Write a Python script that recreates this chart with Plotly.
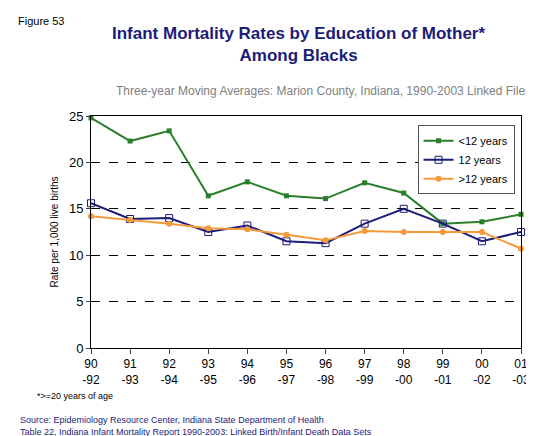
import plotly.graph_objects as go

periods = ["90<br>-92","91<br>-93","92<br>-94","93<br>-95","94<br>-96","95<br>-97","96<br>-98","97<br>-99","98<br>-00","99<br>-01","00<br>-02","01<br>-03"]
lt12 = [24.8, 22.3, 23.4, 16.4, 17.9, 16.4, 16.1, 17.8, 16.7, 13.4, 13.6, 14.4]
eq12 = [15.6, 13.9, 14.0, 12.5, 13.2, 11.5, 11.3, 13.4, 15.0, 13.4, 11.5, 12.5]
gt12 = [14.2, 13.8, 13.4, 12.9, 12.8, 12.2, 11.6, 12.6, 12.5, 12.5, 12.5, 10.7]
x = list(range(len(periods)))

L, R, T, B = 83, 513, 108, 340

fig = go.Figure()
fig.add_trace(go.Scatter(x=x, y=lt12, name="<12 years", mode="lines+markers", cliponaxis=False,
    line=dict(color="#2a7f2a", width=2), marker=dict(symbol="square", size=5, color="#2a7f2a")))
fig.add_trace(go.Scatter(x=x, y=eq12, name="12 years", mode="lines+markers", cliponaxis=False,
    line=dict(color="#1c1c7a", width=2), marker=dict(symbol="square-open", size=7, color="#1c1c7a")))
fig.add_trace(go.Scatter(x=x, y=gt12, name=">12 years", mode="lines+markers", cliponaxis=False,
    line=dict(color="#f59a3a", width=2), marker=dict(symbol="circle", size=6, color="#f59a3a")))

fig.update_layout(
    width=534, height=436, paper_bgcolor="white", plot_bgcolor="white",
    margin=dict(l=L, r=534-R, t=T, b=436-B, autoexpand=False),
    font=dict(family="Liberation Sans, Arial", color="black", size=12),
    showlegend=True,
    legend=dict(x=0.985, y=0.96, xanchor="right", yanchor="top", bordercolor="#555", borderwidth=1,
                bgcolor="white", font=dict(size=11), tracegroupgap=0, itemwidth=30),
    xaxis=dict(range=[0, 11], tickvals=x, ticktext=periods, ticks="outside", ticklen=5,
               showgrid=False, showline=True, linecolor="black", mirror=True, zeroline=False,
               tickfont=dict(size=12)),
    yaxis=dict(range=[0, 25], dtick=5, ticks="outside", ticklen=4, showline=True, linecolor="black",
               mirror=True, showgrid=True, gridcolor="black", griddash="dash", gridwidth=1, zeroline=False,
               title=dict(text="Rate per 1,000 live births", font=dict(size=10), standoff=8),
               tickfont=dict(size=13)),
)

def ann(text, xp, yp, xa="left", size=11, color="black", bold=False):
    fig.add_annotation(text=("<b>%s</b>" % text) if bold else text,
                       x=(xp - L) / (R - L), y=(B - yp) / (B - T),
                       xref="paper", yref="paper", xanchor=xa, yanchor="middle", showarrow=False,
                       font=dict(size=size, color=color), align="center")

ann("Figure 53", 8, 13, size=11)
ann("Infant Mortality Rates by Education of Mother*<br>Among Blacks", 290, 37, xa="center", size=17, color="#1c1c7a", bold=True)
ann("Three-year Moving Averages: Marion County, Indiana, 1990-2003 Linked Files", 525, 83, xa="right", size=12, color="#808080")
ann("*>=20 years of age", 27, 388, size=9)
ann("Source: Epidemiology Resource Center, Indiana State Department of Health", 10, 412, size=9, color="#1c1c7a")
ann("Table 22, Indiana Infant Mortality Report 1990-2003: Linked Birth/Infant Death Data Sets", 10, 424, size=9, color="#1c1c7a")
fig.write_html("out.html")
